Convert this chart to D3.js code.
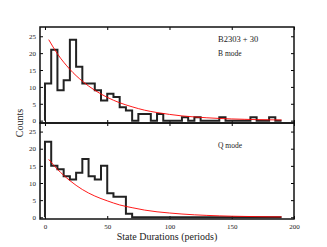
<!DOCTYPE html>
<html lang="en">
<head>
<meta charset="utf-8">
<style>
    body { margin: 0; background: #fff; }
    svg text { font-family: "Liberation Serif", "DejaVu Serif", serif; fill: #222; }
    .tick text { font-size: 7px; }
    .frame { fill: none; stroke: #111; stroke-width: 1.5; }
    .hist { fill: none; stroke: #222; stroke-width: 2; }
    .fit { fill: none; stroke: #f00; stroke-width: 0.9; }
</style>
<script src="https://d3js.org/d3.v7.min.js"></script>
</head>
<body>
<svg width="327" height="247"></svg>
<script>
    // histogram bins (left edges, periods), bin width 5
    var binStart = [0, 5, 10, 15, 20, 25, 30, 35, 40, 45, 50, 55, 60, 65, 70, 75, 80, 85, 90,
        95, 100, 105, 110, 115, 120, 125, 130, 135, 140, 145, 150, 155, 160, 165, 170, 175, 180, 185];
    var binEnd = 190;

    // B mode counts
    var countsB = [11, 21, 9, 12, 24, 16, 11, 11, 9, 6, 8, 7, 4, 3, 0, 2, 2, 0, 2,
        0, 0, 0, 1, 0, 1, 0, 0, 0, 1, 0, 0, 0, 0, 1, 0, 0, 1, 0];
    // Q mode counts
    var countsQ = [22, 15, 14, 12, 11, 13, 17, 12, 11, 15, 7, 6, 6, 1, 0, 0, 0, 0, 0,
        0, 0, 0, 0, 0, 0, 0, 0, 0, 0, 0, 0, 0, 0, 0, 0, 0, 0, 0];

    // exponential fit curves
    var fitX = [3, 10, 20, 30, 40, 50, 60, 70, 80, 90, 100, 110, 120, 130, 140, 150, 160, 170, 180, 190];
    var fitB = [24, 19.8, 15.2, 11.7, 9, 6.9, 5.3, 4.1, 3.1, 2.4, 1.85, 1.4, 1.1, 0.85, 0.65, 0.5, 0.4, 0.3, 0.25, 0.2];
    var fitQ = [16.9, 14, 10.7, 8.1, 6.2, 4.8, 3.6, 2.8, 2.1, 1.6, 1.25, 0.95, 0.72, 0.55, 0.42, 0.32, 0.25, 0.19, 0.14, 0.11];

    var xTicks = [0, 50, 100, 150, 200];
    var yTicks = [0, 5, 10, 15, 20, 25];

    var svg = d3.select("svg");
    var left = 40, right = 294;

    var x = d3.scaleLinear().domain([-4, 200]).range([left, right]);

    var panels = [
        {counts: countsB, fit: fitB, top: 27, bottom: 123, ydom: [-0.7, 27.75], labels: ["B2303 + 30", "B mode"]},
        {counts: countsQ, fit: fitQ, top: 123, bottom: 219, ydom: [-0.5, 27.5], labels: ["Q mode"]}
    ];

    panels.forEach(function(p, i) {
        var y = d3.scaleLinear().domain(p.ydom).range([p.bottom, p.top]);
        var g = svg.append("g");

        // ticks on all four sides, pointing inward
        g.append("g")
            .attr("transform", "translate(0," + p.bottom + ")")
            .call(d3.axisTop(x).tickValues(xTicks).tickSize(3).tickFormat(""))
            .call(function(a) { a.select(".domain").remove(); });
        g.append("g")
            .attr("transform", "translate(0," + p.top + ")")
            .call(d3.axisBottom(x).tickValues(xTicks).tickSize(3).tickFormat(""))
            .call(function(a) { a.select(".domain").remove(); });
        g.append("g")
            .attr("transform", "translate(" + left + ",0)")
            .call(d3.axisRight(y).tickValues(yTicks).tickSize(3).tickFormat(""))
            .call(function(a) { a.select(".domain").remove(); });
        g.append("g")
            .attr("transform", "translate(" + right + ",0)")
            .call(d3.axisLeft(y).tickValues(yTicks).tickSize(3).tickFormat(""))
            .call(function(a) { a.select(".domain").remove(); });

        // y tick labels
        g.append("g")
            .attr("transform", "translate(" + left + ",0)")
            .call(d3.axisLeft(y).tickValues(yTicks).tickSize(0).tickPadding(4))
            .call(function(a) { a.select(".domain").remove(); });

        if (i === 1) {
            g.append("g")
                .attr("transform", "translate(0," + p.bottom + ")")
                .call(d3.axisBottom(x).tickValues(xTicks).tickSize(0).tickPadding(5))
                .call(function(a) { a.select(".domain").remove(); });
        }

        // step histogram
        var pts = [[binStart[0], 0]];
        binStart.forEach(function(b, k) { pts.push([b, p.counts[k]]); });
        pts.push([binEnd, 0]);
        var step = d3.line()
            .x(function(d) { return x(d[0]); })
            .y(function(d) { return y(d[1]); })
            .curve(d3.curveStepAfter);
        g.append("path").attr("class", "hist").attr("d", step(pts));

        // fit
        var fitLine = d3.line()
            .x(function(d) { return x(d[0]); })
            .y(function(d) { return y(d[1]); })
            .curve(d3.curveMonotoneX);
        g.append("path").attr("class", "fit")
            .attr("d", fitLine(fitX.map(function(v, k) { return [v, p.fit[k]]; })));

        // frame
        g.append("rect").attr("class", "frame")
            .attr("x", left).attr("y", p.top)
            .attr("width", right - left).attr("height", p.bottom - p.top);

        // annotations
        p.labels.forEach(function(t, k) {
            g.append("text")
                .attr("x", 218)
                .attr("y", p.top + (i === 0 ? 15 + k * 14 : 25))
                .style("font-size", i === 0 && k === 0 ? "8.5px" : "7.5px")
                .text(t);
        });
    });

    svg.append("text")
        .attr("x", (left + right) / 2)
        .attr("y", 240)
        .attr("text-anchor", "middle")
        .style("font-size", "10px")
        .text("State Durations (periods)");

    svg.append("text")
        .attr("transform", "translate(23,123) rotate(-90)")
        .attr("text-anchor", "middle")
        .style("font-size", "10px")
        .text("Counts");
</script>
</body>
</html>
